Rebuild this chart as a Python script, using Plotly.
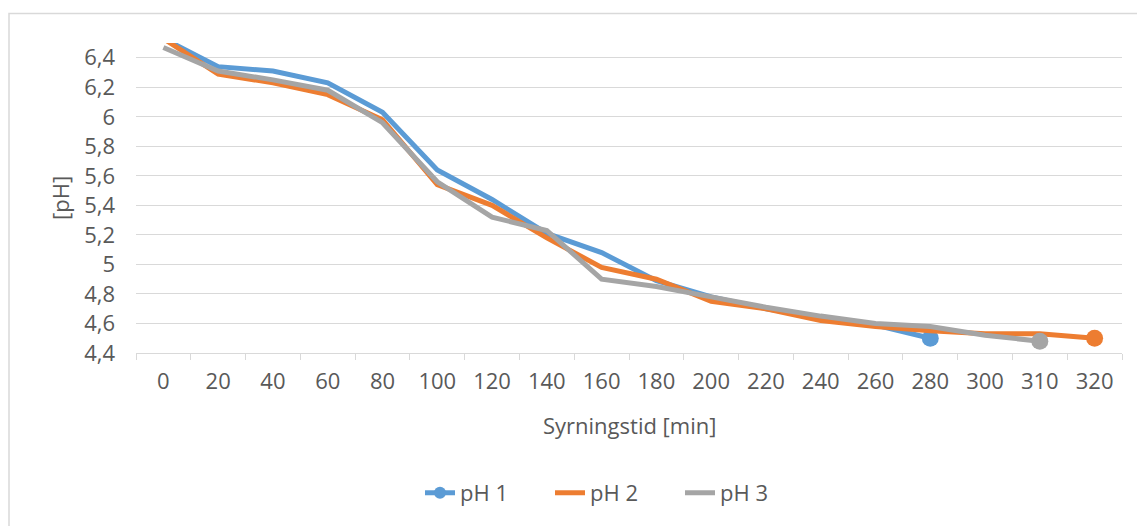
import plotly.graph_objects as go

categories = ["0", "20", "40", "60", "80", "100", "120", "140", "160", "180",
              "200", "220", "240", "260", "280", "300", "310", "320"]
ph1 = [6.53, 6.34, 6.31, 6.23, 6.03, 5.64, 5.44, 5.21, 5.08, 4.89,
       4.78, 4.70, 4.64, 4.59, 4.50]
ph2 = [6.53, 6.29, 6.23, 6.15, 5.98, 5.54, 5.40, 5.18, 4.98, 4.90,
       4.75, 4.70, 4.62, 4.58, 4.55, 4.53, 4.53, 4.50]
ph3 = [6.47, 6.31, 6.25, 6.18, 5.96, 5.56, 5.32, 5.23, 4.90, 4.85,
       4.78, 4.71, 4.65, 4.60, 4.58, 4.52, 4.48]
series_names = ["pH 1", "pH 2", "pH 3"]
colors = ["#5B9BD5", "#ED7D31", "#A5A5A5"]
y_ticks = [4.4, 4.6, 4.8, 5.0, 5.2, 5.4, 5.6, 5.8, 6.0, 6.2, 6.4]
y_ticktext = ["4,4", "4,6", "4,8", "5", "5,2", "5,4", "5,6", "5,8", "6", "6,2", "6,4"]

FONT = "Open Sans"
FS = 22
TXT = "#595959"
GRID = "#D9D9D9"

fig = go.Figure()
all_series = [ph1, ph2, ph3]
for i, (name, vals, col) in enumerate(zip(series_names, all_series, colors)):
    xs = categories[:len(vals)]
    if i == 0:
        sizes = [0] * (len(vals) - 1) + [17]
        fig.add_trace(go.Scatter(x=xs, y=vals, name=name, mode="lines+markers",
                                 line=dict(color=col, width=5),
                                 marker=dict(color=col, size=sizes, opacity=1,
                                             line=dict(width=0))))
    else:
        fig.add_trace(go.Scatter(x=xs, y=vals, name=name, mode="lines",
                                 line=dict(color=col, width=5)))
        fig.add_trace(go.Scatter(x=[xs[-1]], y=[vals[-1]], mode="markers",
                                 showlegend=False, hoverinfo="skip",
                                 marker=dict(color=col, size=17, line=dict(width=0))))

px_per_x = 986.0
px_per_y = 312.3
fig.update_layout(
    width=1137, height=526,
    margin=dict(l=136, r=15, t=43, b=171),
    paper_bgcolor="white", plot_bgcolor="white",
    font=dict(family=FONT, size=FS, color=TXT),
    showlegend=True,
    legend=dict(orientation="h", x=(420 - 136) / px_per_x, xanchor="left",
                y=(355 - 496) / px_per_y, yanchor="middle",
                font=dict(family=FONT, size=FS, color=TXT),
                itemsizing="constant", entrywidth=85,
                bgcolor="rgba(0,0,0,0)"),
    xaxis=dict(type="category", categoryorder="array", categoryarray=categories,
               range=[-0.5, len(categories) - 0.5],
               showgrid=False, showline=True, linecolor=GRID, linewidth=1.3,
               ticks="outside", tickson="boundaries", ticklen=6, tickcolor=GRID,
               tickwidth=1.3, ticklabelstandoff=8,
               tickfont=dict(family=FONT, size=FS, color=TXT), zeroline=False),
    yaxis=dict(range=[4.4, 6.5], tickvals=y_ticks, ticktext=y_ticktext,
               showgrid=True, gridcolor=GRID, gridwidth=1.3,
               showline=False, zeroline=False, ticks="", ticklabelstandoff=20,
               tickfont=dict(family=FONT, size=FS, color=TXT)),
    annotations=[
        dict(text="Syrningstid [min]", xref="paper", yref="paper", x=0.5, y=0,
             yshift=-72, xanchor="center", yanchor="middle", showarrow=False,
             font=dict(family=FONT, size=FS, color=TXT)),
        dict(text="[pH]", xref="paper", yref="paper", x=0, y=0.5, xshift=-76,
             xanchor="center", yanchor="middle", textangle=-90, showarrow=False,
             font=dict(family=FONT, size=FS, color=TXT)),
    ],
    shapes=[
        dict(type="rect", xref="paper", yref="paper",
             x0=(9 - 136) / px_per_x, x1=1.2, y0=-1.0, y1=(355 - 13) / px_per_y,
             line=dict(color=GRID, width=1.5), fillcolor="rgba(0,0,0,0)", layer="below"),
    ],
)

fig.write_html("out.html")
